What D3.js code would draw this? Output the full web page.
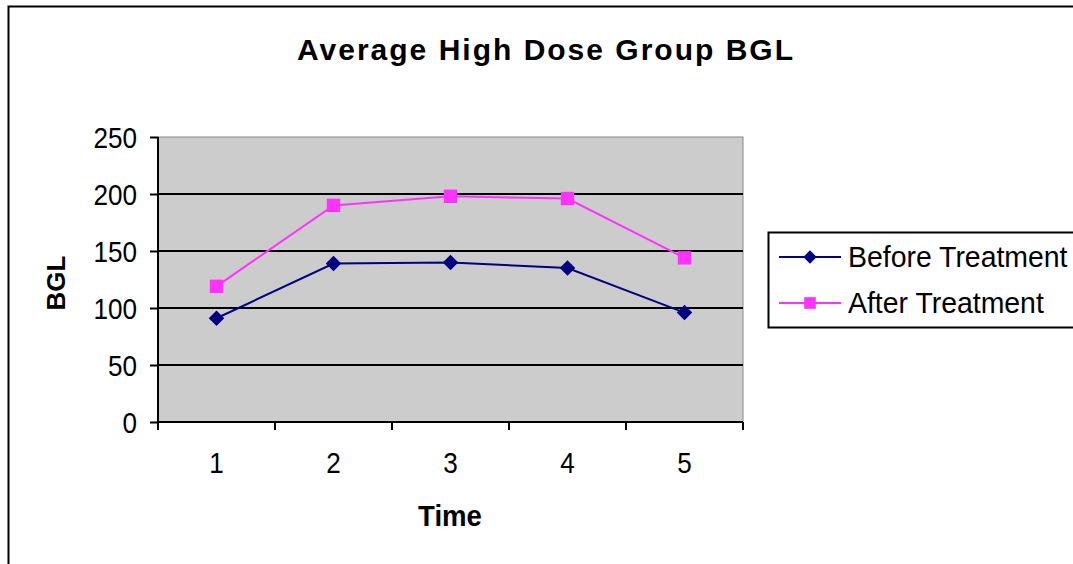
<!DOCTYPE html>
<html>
<head>
<meta charset="utf-8">
<script src="https://cdn.jsdelivr.net/npm/d3@7"></script>
<style>
  html, body { margin: 0; padding: 0; background: #fff; }
  svg { display: block; font-family: 'Liberation Sans', Arial, sans-serif; }
</style>
</head>
<body>
<div id="chart"></div>
<script>
const times = ['1', '2', '3', '4', '5'];
const beforeTreatment = [91, 139, 140, 135, 96];
const afterTreatment = [119, 190, 198, 196, 144];
const yTicks = [0, 50, 100, 150, 200, 250];
const seriesNames = ['Before Treatment', 'After Treatment'];

const width = 1073;
const height = 564;
const margins = { top: 137, left: 158, right: 330, bottom: 142 };
const visWidth = width - margins.left - margins.right;
const visHeight = height - margins.top - margins.bottom;

// excel style diamond marker
const diamond = {
    draw(context, size) {
        const r = Math.sqrt(size) / 2;
        context.moveTo(0, -r);
        context.lineTo(r, 0);
        context.lineTo(0, r);
        context.lineTo(-r, 0);
        context.closePath();
    },
};

const svg = d3.select('#chart').append('svg')
    .attr('width', width)
    .attr('height', height);

// outer chart border
svg.append('rect')
    .attr('x', 8.5).attr('y', 6.5)
    .attr('width', width + 10).attr('height', height + 10)
    .attr('fill', 'none')
    .attr('stroke', '#000')
    .attr('stroke-width', 2);

svg.append('text')
    .attr('x', 546).attr('y', 60)
    .attr('text-anchor', 'middle')
    .style('font-weight', 'bold')
    .style('font-size', '30px')
    .style('letter-spacing', '2px')
    .text('Average High Dose Group BGL');

const g = svg.append('g')
    .attr('transform', `translate(${margins.left},${margins.top})`);

const x = d3.scaleBand().domain(times).range([0, visWidth]);
const y = d3.scaleLinear().domain([0, 250]).range([visHeight, 0]);

g.append('rect')
    .attr('width', visWidth).attr('height', visHeight)
    .attr('fill', '#cccccc')
    .attr('stroke', '#888')
    .attr('stroke-width', 1);

g.append('g')
    .selectAll('line')
    .data(yTicks.filter(d => d > 0 && d < 250))
    .join('line')
    .attr('x1', 0).attr('x2', visWidth)
    .attr('y1', d => y(d)).attr('y2', d => y(d))
    .attr('stroke', '#000')
    .attr('stroke-width', 2);

const yAxis = g.append('g')
    .call(d3.axisLeft(y).tickValues(yTicks).tickSize(8).tickPadding(12));
yAxis.select('.domain').attr('stroke-width', 2).attr('d', `M0,${visHeight}V0`);
yAxis.selectAll('.tick line').attr('stroke-width', 2);
yAxis.selectAll('.tick text')
    .attr('x', -21 / 0.87)
    .attr('dy', '0.36em')
    .attr('transform', 'scale(0.87,1)')
    .style('font-size', '30px')
    .attr('fill', '#000');

const xAxis = g.append('g')
    .attr('transform', `translate(0,${visHeight})`)
    .call(d3.axisBottom(x).tickSize(0).tickPadding(30));
xAxis.select('.domain').attr('stroke-width', 2).attr('d', `M0,0H${visWidth}`);
xAxis.selectAll('.tick text')
    .attr('y', 30)
    .style('transform', 'scaleX(0.87)')
    .style('font-size', '30px')
    .attr('fill', '#000');

// category boundary ticks
xAxis.append('g')
    .selectAll('line')
    .data(times.map(d => x(d)).concat([visWidth]))
    .join('line')
    .attr('x1', d => d).attr('x2', d => d)
    .attr('y1', 0).attr('y2', 8)
    .attr('stroke', '#000')
    .attr('stroke-width', 2);

svg.append('text')
    .attr('transform', 'translate(450,526) scale(0.92,1)')
    .attr('text-anchor', 'middle')
    .style('font-weight', 'bold')
    .style('font-size', '30px')
    .text('Time');

svg.append('text')
    .attr('transform', 'translate(65,283) rotate(-90)')
    .attr('text-anchor', 'middle')
    .style('font-weight', 'bold')
    .style('font-size', '26px')
    .text('BGL');

const series = [
    { name: seriesNames[0], values: beforeTreatment, color: '#000080', symbol: diamond, size: 240 },
    { name: seriesNames[1], values: afterTreatment, color: '#ff33ff', symbol: d3.symbolSquare, size: 180 },
];

const line = d3.line()
    .x((d, i) => x(times[i]) + x.bandwidth() / 2)
    .y(d => y(d));

series.forEach(s => {
    g.append('path')
        .datum(s.values)
        .attr('d', line)
        .attr('fill', 'none')
        .attr('stroke', s.color)
        .attr('stroke-width', 2);
    g.append('g')
        .selectAll('path')
        .data(s.values)
        .join('path')
        .attr('transform', (d, i) => `translate(${x(times[i]) + x.bandwidth() / 2},${y(d)})`)
        .attr('d', d3.symbol().type(s.symbol).size(s.size))
        .attr('fill', s.color);
});

// legend
const legend = svg.append('g').attr('transform', 'translate(768,232)');
legend.append('rect')
    .attr('x', 0.5).attr('y', 0.5)
    .attr('width', 330).attr('height', 95)
    .attr('fill', '#fff')
    .attr('stroke', '#000')
    .attr('stroke-width', 2);

series.forEach((s, i) => {
    const ly = 25 + i * 46;
    legend.append('line')
        .attr('x1', 11).attr('x2', 73)
        .attr('y1', ly).attr('y2', ly)
        .attr('stroke', s.color)
        .attr('stroke-width', 2);
    legend.append('path')
        .attr('transform', `translate(42,${ly})`)
        .attr('d', d3.symbol().type(s.symbol).size(s.size * 0.75))
        .attr('fill', s.color);
    legend.append('text')
        .attr('transform', `translate(80,${ly + 10}) scale(0.98,1)`)
        .style('font-size', '29px')
        .text(s.name);
});
</script>
</body>
</html>
